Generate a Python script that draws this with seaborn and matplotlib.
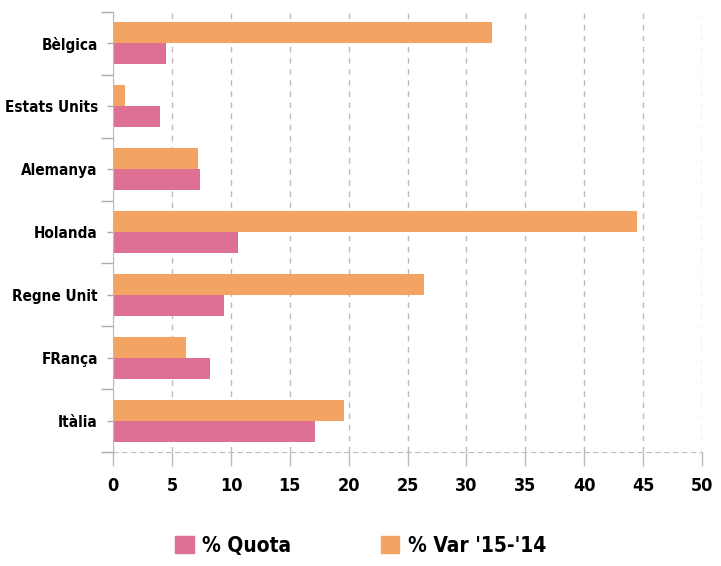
import pandas as pd
import matplotlib.pyplot as plt
import seaborn as sns
from matplotlib.ticker import FixedLocator
from matplotlib.patches import Patch

# dades
paisos = ['Bèlgica', 'Estats Units', 'Alemanya', 'Holanda', 'Regne Unit', 'FRança', 'Itàlia']
quota = [4.5, 4.0, 7.4, 10.6, 9.4, 8.2, 17.1]
var_15_14 = [32.2, 1.0, 7.2, 44.5, 26.4, 6.2, 19.6]

lbl_quota = '% Quota'
lbl_var = "% Var '15-'14"

df = pd.DataFrame({
    'pais': paisos * 2,
    'valor': var_15_14 + quota,
    'serie': [lbl_var] * len(paisos) + [lbl_quota] * len(paisos),
})

colors = {lbl_quota: '#DD7093', lbl_var: '#F4A462'}

sns.set_style('white')
plt.rcParams['font.family'] = ['DejaVu Sans']
plt.rcParams['font.stretch'] = 'condensed'
plt.rcParams['font.weight'] = 'bold'
plt.rcParams['text.color'] = 'black'

fig = plt.figure(figsize=(7.21, 5.66), dpi=100)
ax = fig.add_axes([0.157, 0.2014, 0.8166, 0.7774])

sns.barplot(data=df, x='valor', y='pais', hue='serie', hue_order=[lbl_var, lbl_quota],
            palette=colors, orient='h', width=0.67, gap=0, saturation=1, linewidth=0,
            ax=ax, legend=False)

ax.set_xlim(0, 50)
ax.set_ylim(len(paisos) - 0.5, -0.5)
ax.set_xticks(range(0, 51, 5))
ax.xaxis.grid(True, linestyle=(0, (4, 4)), color='#bbbbbb', linewidth=1)
ax.set_axisbelow(True)
ax.set_xlabel('')
ax.set_ylabel('')

# marques de separació entre països
ax.yaxis.set_minor_locator(FixedLocator([i - 0.5 for i in range(len(paisos) + 1)]))
ax.tick_params(axis='both', which='both', left=True, bottom=True)
ax.tick_params(axis='y', which='major', length=4, color='#aaaaaa', width=1, labelsize=11,
               pad=7, labelcolor='black')
ax.tick_params(axis='y', which='minor', length=9, color='#aaaaaa', width=1)
ax.tick_params(axis='x', which='major', length=10, color='#bbbbbb', width=1, labelsize=13,
               pad=8, labelcolor='black')

for s in ['top', 'right']:
    ax.spines[s].set_visible(False)
ax.spines['left'].set_color('#bbbbbb')
ax.spines['bottom'].set_color('#bbbbbb')
ax.spines['bottom'].set_linestyle((0, (4, 4)))

handles = [Patch(color=colors[lbl_quota], label=lbl_quota),
           Patch(color=colors[lbl_var], label=lbl_var)]
fig.legend(handles=handles, loc='lower center', bbox_to_anchor=(0.5, -0.015), ncol=2,
           frameon=False, fontsize=15, handlelength=0.9, handleheight=0.9,
           columnspacing=4.3, handletextpad=0.4)

fig.savefig('out.png', dpi=100)
